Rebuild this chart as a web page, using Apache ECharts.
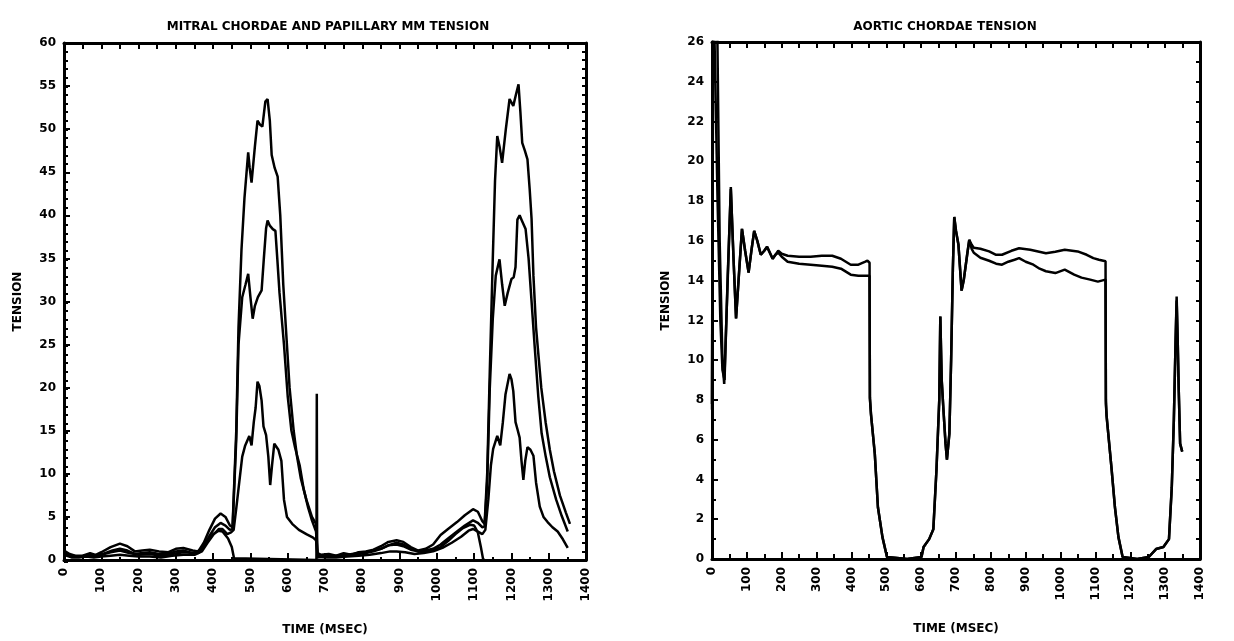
<!DOCTYPE html>
<html>
<head>
<meta charset="utf-8">
<script src="https://cdn.jsdelivr.net/npm/echarts@6/dist/echarts.min.js"></script>
<style>html,body{margin:0;padding:0;background:#fff;}#c{width:1234px;height:641px;}</style>
</head>
<body>
<div id="c"></div>
<script>
// ---- Titles / axis text ----
const titleLeft = 'MITRAL CHORDAE AND PAPILLARY MM TENSION';
const titleRight = 'AORTIC CHORDAE TENSION';
const xName = 'TIME (MSEC)';
const yName = 'TENSION';

// ---- Left panel: mitral chordae & papillary muscle tension [time ms, tension] ----
const mitralA = [[0,1.1],[15,0.7],[30,0.5],[50,0.5],[70,0.8],[85,0.6],[100,0.9],[125,1.5],[150,1.9],[170,1.6],[190,1.0],[210,1.1],[230,1.2],[255,1.0],[280,0.9],[300,1.3],[320,1.4],[345,1.1],[360,1.0],[375,2.0],[390,3.5],[405,4.8],[420,5.4],[433,5.0],[445,4.0],[452,3.8],[455,4.0],[462,15],[468,27],[476,36],[484,42],[494,47.3],[498,45.5],[503,43.8],[512,48],[519,51],[526,50.5],[532,50.3],[540,53.2],[546,53.5],[552,51],[557,47],[565,45.5],[573,44.5],[580,40],[588,32],[595,27],[605,20],[616,15],[625,12],[635,9.5],[650,7],[665,5],[676,4.2],[680,0.8],[690,0.6],[710,0.7],[730,0.5],[750,0.8],[770,0.6],[790,0.9],[810,1.0],[830,1.2],[850,1.6],[870,2.1],[892,2.3],[910,2.1],[930,1.5],[950,1.1],[970,1.3],[990,1.8],[1010,2.9],[1030,3.6],[1054,4.4],[1075,5.2],[1097,5.9],[1110,5.6],[1122,4.5],[1128,4.2],[1135,10],[1142,22],[1150,35],[1156,44],[1162,49.2],[1168,48],[1175,46.1],[1185,50],[1195,53.5],[1205,52.7],[1212,54],[1219,55.2],[1224,52],[1229,48.4],[1236,47.5],[1243,46.5],[1249,43],[1254,39.6],[1259,33],[1266,27],[1280,20],[1292,15.9],[1303,12.8],[1314,10.3],[1330,7.5],[1346,5.5],[1357,4.2]];
const mitralB = [[0,0.9],[15,0.6],[30,0.4],[50,0.4],[70,0.6],[90,0.5],[110,0.8],[130,1.1],[150,1.3],[170,1.1],[190,0.7],[210,0.8],[230,0.9],[255,0.7],[280,0.7],[300,1.0],[320,1.1],[345,0.8],[360,0.8],[375,1.6],[390,2.8],[405,3.8],[420,4.3],[433,4.0],[445,3.5],[452,3.6],[455,3.8],[462,14],[468,25],[478,30.5],[487,32],[494,33.2],[500,30.5],[506,28],[512,29.5],[520,30.5],[530,31.3],[536,35],[542,38.5],[546,39.4],[552,38.8],[560,38.4],[567,38.2],[572,35],[578,31],[584,28],[590,25],[600,19],[610,15],[620,13],[632,11],[643,8.2],[654,6.2],[665,4.6],[676,3.3],[680,0.6],[690,0.4],[710,0.5],[730,0.4],[750,0.6],[770,0.5],[790,0.7],[810,0.8],[830,1.0],[850,1.3],[870,1.7],[892,1.8],[910,1.6],[930,1.2],[950,1.0],[970,1.1],[990,1.3],[1010,1.8],[1030,2.5],[1054,3.3],[1075,4.0],[1097,4.6],[1110,4.3],[1122,3.8],[1128,3.9],[1135,9],[1142,20],[1150,28],[1158,33],[1168,34.9],[1175,32],[1182,29.5],[1190,31],[1200,32.6],[1206,32.8],[1211,34],[1216,39.5],[1222,40],[1227,39.5],[1238,38.4],[1246,35],[1254,30],[1262,25],[1272,19],[1281,14.7],[1292,12],[1303,9.6],[1320,7],[1335,5.1],[1351,3.3]];
const mitralC = [[0,0.6],[20,0.3],[40,0.3],[60,0.4],[80,0.3],[100,0.4],[125,0.5],[150,0.6],[175,0.5],[200,0.4],[230,0.4],[260,0.3],[290,0.5],[320,0.6],[350,0.6],[370,1.0],[385,2.0],[400,2.9],[415,3.6],[425,3.6],[438,3.0],[448,3.2],[455,3.5],[462,6],[470,9],[478,12],[486,13.3],[497,14.4],[503,13.3],[509,16],[514,17.7],[519,20.7],[524,20.2],[530,18.5],[535,15.5],[542,14.5],[548,12],[553,8.7],[558,11],[564,13.5],[575,12.8],[583,11.5],[590,7],[598,5],[612,4.2],[630,3.5],[650,3.0],[668,2.6],[676,2.3],[680,0.4],[700,0.3],[730,0.3],[760,0.4],[790,0.5],[820,0.6],[850,0.8],[875,1.0],[892,1.0],[915,0.9],[940,0.7],[965,0.8],[990,1.0],[1015,1.4],[1040,2.0],[1065,2.7],[1085,3.4],[1097,3.6],[1110,3.3],[1122,3.0],[1130,3.5],[1138,7],[1145,11],[1151,12.9],[1162,14.4],[1170,13.3],[1177,16],[1184,19.2],[1195,21.6],[1200,21],[1205,19.6],[1211,16],[1216,15.2],[1222,14.2],[1227,11.5],[1232,9.3],[1237,11.5],[1243,13.1],[1251,12.8],[1259,12.1],[1266,9],[1276,6.2],[1286,5.0],[1297,4.4],[1310,3.8],[1324,3.3],[1338,2.4],[1351,1.4]];
const mitralD = [[0,0.8],[20,0.5],[40,0.4],[60,0.5],[80,0.4],[100,0.6],[125,0.9],[150,1.1],[175,0.8],[200,0.6],[230,0.7],[260,0.5],[290,0.7],[320,0.9],[350,0.8],[370,1.3],[385,2.3],[400,3.0],[415,3.4],[425,3.3],[440,2.5],[450,1.5],[456,0.2],[460,0],[677,0],[678,19.3],[679,0.3],[700,0.4],[730,0.5],[760,0.6],[790,0.8],[820,1.0],[850,1.3],[870,1.7],[892,2.0],[910,1.8],[930,1.3],[950,1.0],[970,1.0],[990,1.2],[1010,1.5],[1030,2.2],[1050,3.0],[1070,3.7],[1090,4.1],[1100,4.0],[1110,3.2],[1118,1.5],[1124,0.1],[1128,0]];

// ---- Right panel: aortic chordae tension [time ms, tension] ----
const aorticUpper = [[0,7.8],[4,30],[13,30],[22,16],[30,10],[35,8.8],[45,14],[54,18.7],[62,15],[69,12.1],[78,14.5],[86,16.6],[95,15.5],[105,14.4],[113,15.5],[121,16.5],[130,16],[140,15.3],[150,15.5],[158,15.7],[166,15.4],[174,15.1],[182,15.3],[190,15.5],[200,15.35],[217,15.25],[250,15.2],[283,15.2],[315,15.25],[345,15.25],[370,15.1],[398,14.8],[420,14.8],[440,14.95],[446,15.0],[452,14.9],[453,8.1],[456,7.3],[467,5.3],[476,2.6],[489,1.1],[502,0.1],[505,0],[560,0],[601,0.1],[607,0.6],[623,1.0],[635,1.5],[644,4.5],[652,8],[655,12.2],[659,9],[664,7.5],[670,5.8],[674,5.0],[681,6.3],[686,10],[691,14.6],[695,17.2],[700,16.5],[707,15.8],[716,13.5],[722,14],[732,15.3],[738,16.05],[745,15.8],[751,15.65],[770,15.6],[795,15.47],[815,15.3],[832,15.3],[859,15.5],[881,15.63],[913,15.55],[958,15.38],[985,15.45],[1012,15.55],[1049,15.47],[1075,15.3],[1094,15.13],[1110,15.05],[1129,14.97],[1130,8.0],[1132,7.2],[1146,4.6],[1156,2.6],[1166,1.1],[1178,0.1],[1180,0],[1220,0],[1253,0.1],[1274,0.5],[1295,0.6],[1311,1.0],[1319,3.6],[1325,7],[1330,11],[1333,13.2],[1336,11],[1339,8.5],[1343,5.8],[1349,5.4]];
const aorticLower = [[0,7.5],[3,30],[8,30],[16,18],[24,12],[30,9.5],[36,9.0],[45,14.2],[54,18.6],[62,15],[69,12.1],[78,14.5],[86,16.6],[95,15.5],[105,14.4],[113,15.5],[121,16.5],[130,16],[140,15.3],[150,15.5],[158,15.7],[166,15.4],[174,15.1],[182,15.3],[190,15.4],[200,15.2],[217,14.95],[250,14.85],[283,14.8],[315,14.75],[345,14.7],[370,14.6],[398,14.3],[420,14.25],[452,14.25],[453,8.1],[456,7.3],[467,5.3],[476,2.6],[489,1.1],[502,0.1],[505,0],[560,0],[601,0.1],[607,0.6],[623,1.0],[635,1.5],[644,4.5],[652,8],[655,12.2],[659,9],[664,7.5],[670,5.8],[674,5.0],[681,6.3],[686,10],[691,14.6],[695,17.2],[700,16.5],[707,15.8],[716,13.5],[722,14],[732,15.3],[738,16.05],[745,15.6],[751,15.4],[770,15.15],[795,15.0],[815,14.85],[832,14.8],[850,14.95],[868,15.05],[881,15.13],[900,14.95],[922,14.8],[940,14.6],[958,14.47],[985,14.38],[1012,14.55],[1039,14.3],[1060,14.15],[1085,14.05],[1107,13.95],[1129,14.05],[1130,7.8],[1132,7.2],[1146,4.6],[1156,2.6],[1166,1.1],[1178,0.1],[1180,0],[1220,0],[1253,0.1],[1274,0.5],[1295,0.6],[1311,1.0],[1319,3.6],[1325,7],[1330,11],[1333,13.0],[1336,11],[1339,8.5],[1343,5.8],[1349,5.4]];

// ---- Axis ranges ----
const xRange = {min: 0, max: 1400, interval: 100, minor: 50};
const yLeftRange = {min: 0, max: 60, interval: 5, minor: 1};
const yRightRange = {min: 0, max: 26, interval: 2, minor: 1};

const FONT = 'DejaVu Sans';
const lab = {fontFamily: FONT, fontWeight: 'bold', fontSize: 12, color: '#000'};
const BLACK = '#000';

const gridLeft = {left: 64, top: 43, width: 522, height: 519};
const gridRight = {left: 712, top: 42, width: 488, height: 517};

function tick(len) { return {show: true, inside: true, length: len, lineStyle: {color: BLACK, width: 2}}; }
function noLine() { return {show: false}; }

// Main labelled axes (grid gi) + minor-tick overlay axes (grid gm)
function buildX(gi, gm) {
  return [
    {gridIndex: gi, type: 'value', position: 'bottom', min: xRange.min, max: xRange.max, interval: xRange.interval,
     axisLine: {show: true, onZero: false, lineStyle: {color: BLACK, width: 3}},
     axisTick: tick(7), splitLine: {show: false},
     axisLabel: Object.assign({rotate: 90, margin: 8, formatter: v => String(v)}, lab),
     name: xName, nameLocation: 'middle', nameGap: 64,
     nameTextStyle: Object.assign({}, lab)},
    {gridIndex: gi, type: 'value', position: 'top', min: xRange.min, max: xRange.max, interval: xRange.minor,
     axisLine: {show: true, onZero: false, lineStyle: {color: BLACK, width: 3}},
     axisTick: tick(6), splitLine: {show: false}, axisLabel: {show: false}},
    {gridIndex: gm, type: 'value', position: 'bottom', min: xRange.min, max: xRange.max, interval: xRange.minor,
     axisLine: {show: false, onZero: false}, axisTick: tick(5), splitLine: {show: false}, axisLabel: {show: false}}
  ];
}
function buildY(gi, gm, r) {
  return [
    {gridIndex: gi, type: 'value', position: 'left', min: r.min, max: r.max, interval: r.interval,
     axisLine: {show: true, onZero: false, lineStyle: {color: BLACK, width: 3}},
     axisTick: tick(6), splitLine: {show: false},
     axisLabel: Object.assign({margin: 8}, lab),
     name: yName, nameLocation: 'middle', nameGap: 40, nameRotate: 90,
     nameTextStyle: Object.assign({}, lab)},
    {gridIndex: gi, type: 'value', position: 'right', min: r.min, max: r.max, interval: r.minor,
     axisLine: {show: true, onZero: false, lineStyle: {color: BLACK, width: 3}},
     axisTick: tick(4), splitLine: {show: false}, axisLabel: {show: false}},
    {gridIndex: gm, type: 'value', position: 'left', min: r.min, max: r.max, interval: r.minor,
     axisLine: {show: false, onZero: false}, axisTick: tick(4), splitLine: {show: false}, axisLabel: {show: false}}
  ];
}
function line(data, xi, yi) {
  return {type: 'line', data: data, xAxisIndex: xi, yAxisIndex: yi, showSymbol: false, symbol: 'none',
          smooth: false, clip: true, lineStyle: {color: BLACK, width: 2.5}, silent: true};
}

const chart = echarts.init(document.getElementById('c'), null, {renderer: 'canvas'});
chart.setOption({
  animation: false,
  backgroundColor: '#fff',
  title: [
    {text: titleLeft, left: 323, top: 16, textAlign: 'center',
     textStyle: Object.assign({}, lab)},
    {text: titleRight, left: 940, top: 16, textAlign: 'center',
     textStyle: Object.assign({}, lab)}
  ],
  grid: [gridLeft, gridRight, Object.assign({}, gridLeft), Object.assign({}, gridRight)],
  // x axes: 0,1 (left main), 2 (left minor), 3,4 (right main), 5 (right minor)
  xAxis: buildX(0, 2).concat(buildX(1, 3)),
  yAxis: buildY(0, 2, yLeftRange).concat(buildY(1, 3, yRightRange)),
  series: [
    line(mitralA, 0, 0), line(mitralB, 0, 0), line(mitralC, 0, 0), line(mitralD, 0, 0),
    line(aorticUpper, 3, 3), line(aorticLower, 3, 3)
  ]
});
</script>
</body>
</html>
